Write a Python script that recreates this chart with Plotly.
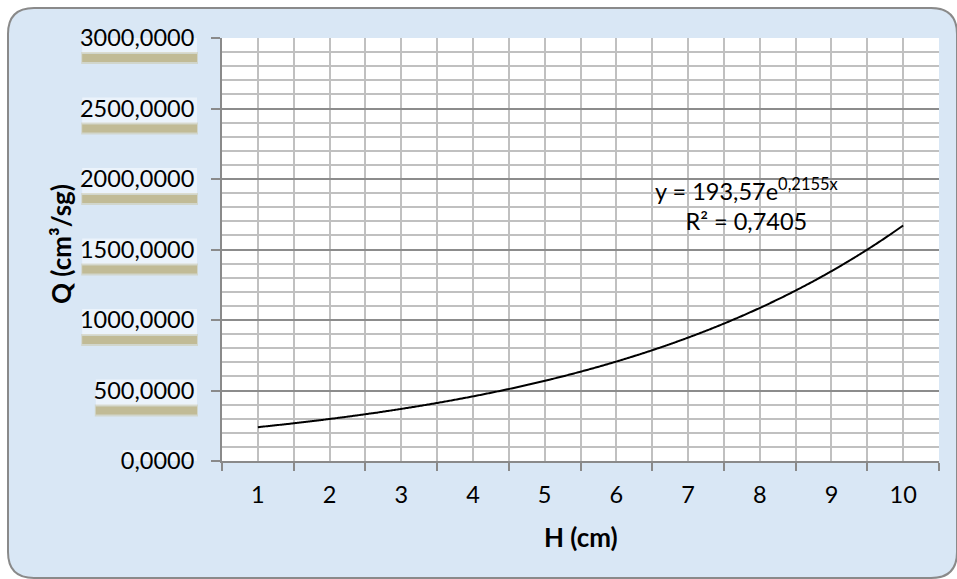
import math
import plotly.graph_objects as go

# Trendline: Q = A * exp(B * H), fitted to the gauge measurements
H_values = list(range(1, 11))
coef_a = 193.57
coef_b = 0.2155
r_squared = 0.7405

y_ticks = [0, 500, 1000, 1500, 2000, 2500, 3000]
y_tick_text = ["0,0000", "500,0000", "1000,0000", "1500,0000",
               "2000,0000", "2500,0000", "3000,0000"]
x_tick_text = [str(h) for h in H_values]
x_title = "H (cm)"
y_title = "Q (cm³/sg)"

steps = 300
curve_x = [H_values[0] + (H_values[-1] - H_values[0]) * i / steps for i in range(steps + 1)]
curve_y = [coef_a * math.exp(coef_b * x) for x in curve_x]

W, HGT = 957, 579
ML, MR, MT, MB = 222, 18, 38, 118
PW, PH = W - ML - MR, HGT - MT - MB


def px(x):
    return (x - ML) / PW


def py(y):
    return (HGT - MB - y) / PH


FONT = "Lato"
TICK_SIZE = 23.5
TITLE_SIZE = 26

fig = go.Figure()
fig.add_trace(go.Scatter(
    x=curve_x, y=curve_y, mode="lines",
    line=dict(color="black", width=2, shape="spline"), hoverinfo="skip",
    showlegend=False,
))

shapes = []
# rounded chart frame
x0, x1, y0, y1, r = 8, 957, 8, 578, 26
path = (f"M {px(x0 + r)},{py(y0)} L {px(x1 - r)},{py(y0)} "
        f"Q {px(x1)},{py(y0)} {px(x1)},{py(y0 + r)} "
        f"L {px(x1)},{py(y1 - r)} Q {px(x1)},{py(y1)} {px(x1 - r)},{py(y1)} "
        f"L {px(x0 + r)},{py(y1)} Q {px(x0)},{py(y1)} {px(x0)},{py(y1 - r)} "
        f"L {px(x0)},{py(y0 + r)} Q {px(x0)},{py(y0)} {px(x0 + r)},{py(y0)} Z")
shapes.append(dict(type="path", xref="paper", yref="paper", path=path,
                   fillcolor="#d9e7f5", line=dict(color="#8a8a8a", width=2),
                   layer="below"))
# white plotting area
shapes.append(dict(type="rect", xref="paper", yref="paper", x0=0, x1=1, y0=0, y1=1,
                   fillcolor="white", line=dict(width=0), layer="below"))

# glow + shadow behind each y tick label
for val, txt in zip(y_ticks, y_tick_text):
    ndig = sum(c.isdigit() for c in txt)
    width = ndig * 13.6 + 6
    common = dict(type="rect", xref="paper", yref="y", xsizemode="pixel",
                  ysizemode="pixel", xanchor=0, yanchor=val, layer="below",
                  line=dict(width=0))
    shapes.append(dict(common, x0=-25 - width, x1=-25, y0=-15, y1=11,
                       fillcolor="rgba(236,243,251,0.95)"))
    shapes.append(dict(common, x0=-26 - width, x1=-24, y0=-26, y1=-14,
                       fillcolor="rgba(200,193,155,0.45)"))
    shapes.append(dict(common, x0=-25 - width, x1=-25, y0=-24, y1=-16,
                       fillcolor="rgba(190,182,140,0.85)"))

fig.update_layout(
    width=W, height=HGT,
    margin=dict(l=ML, r=MR, t=MT, b=MB, pad=0),
    paper_bgcolor="white", plot_bgcolor="rgba(0,0,0,0)",
    font=dict(family=FONT, color="black"),
    shapes=shapes,
    showlegend=False,
    xaxis=dict(
        range=[0.5, 10.5], tickvals=H_values, ticktext=x_tick_text,
        ticks="", showgrid=True, gridcolor="#c0c0c0", gridwidth=1.5,
        minor=dict(tick0=0.5, dtick=1, ticks="outside", ticklen=8,
                   tickcolor="#8a8a8a", tickwidth=1.5, showgrid=True,
                   gridcolor="#c0c0c0", gridwidth=1.5),
        showline=True, linecolor="#8a8a8a", linewidth=2,
        tickfont=dict(size=TICK_SIZE), ticklabelstandoff=12,
        zeroline=False,
    ),
    yaxis=dict(
        range=[0, 3000], tickvals=y_ticks, ticktext=y_tick_text,
        ticks="outside", ticklen=9, tickcolor="#8a8a8a", tickwidth=1.5,
        showgrid=True, gridcolor="#8c8c8c", gridwidth=1.5,
        minor=dict(dtick=100, showgrid=True, gridcolor="#c0c0c0", gridwidth=1.5),
        showline=True, linecolor="#8a8a8a", linewidth=2,
        tickfont=dict(size=TICK_SIZE), ticklabelstandoff=12,
        zeroline=False,
    ),
    annotations=[
        dict(x=7.81, y=1820, xref="x", yref="y", showarrow=False,
             text=(f"y = {str(coef_a).replace('.', ',')}e"
                   f"<sup>{str(coef_b).replace('.', ',')}x</sup><br>"
                   f"R² = {str(r_squared).replace('.', ',')}"),
             font=dict(size=TICK_SIZE), align="center"),
        dict(x=px(581), y=py(537), xref="paper", yref="paper", showarrow=False,
             xanchor="center", yanchor="middle",
             text=f"<b>{x_title}</b>", font=dict(size=TITLE_SIZE)),
        dict(x=px(61), y=py(244), xref="paper", yref="paper", showarrow=False,
             xanchor="center", yanchor="middle",
             text=f"<b>{y_title}</b>", font=dict(size=TITLE_SIZE), textangle=-90),
    ],
)

fig.write_html("out.html")
